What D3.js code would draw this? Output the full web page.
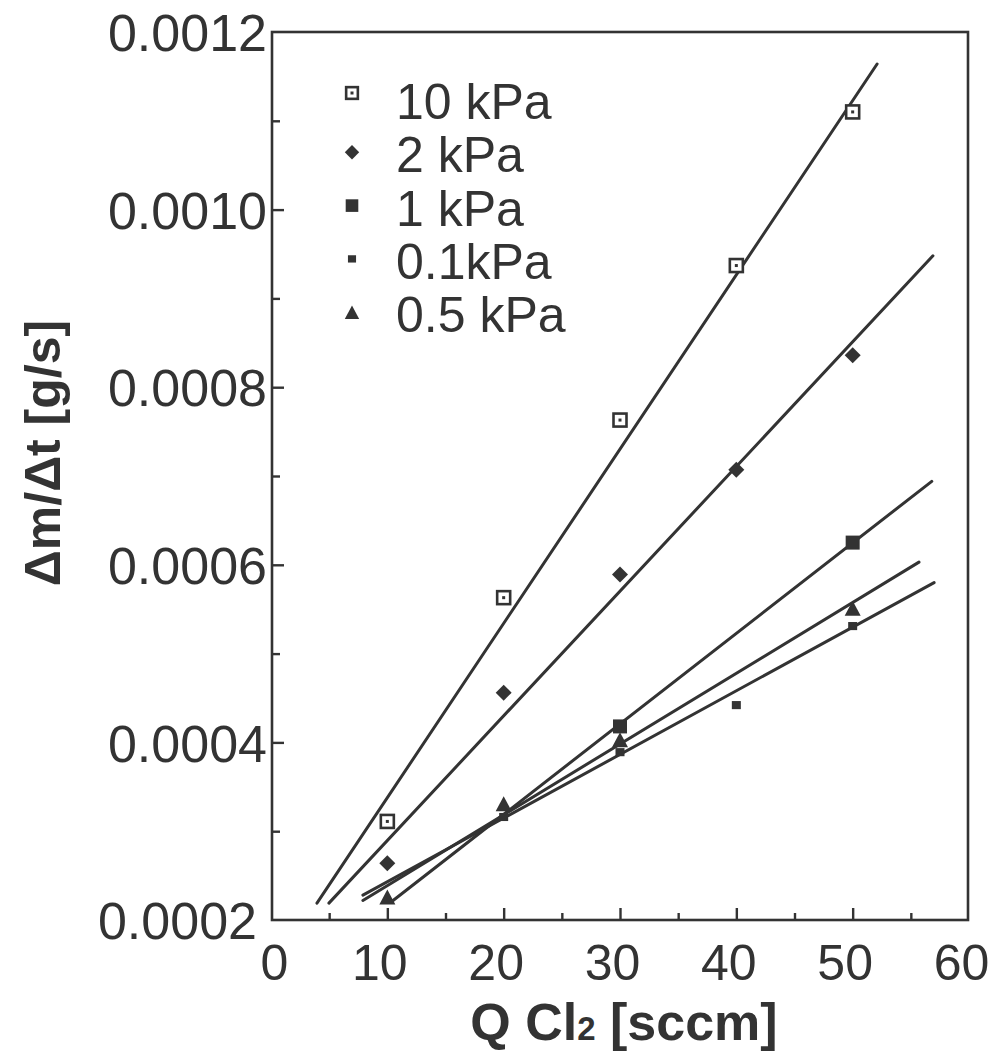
<!DOCTYPE html>
<html>
<head>
<meta charset="utf-8">
<script src="https://cdn.jsdelivr.net/npm/d3@7"></script>
<style>
  html, body { margin: 0; padding: 0; background: #fff; }
  svg { display: block; }
  text { font-family: "Liberation Sans", Arial, Helvetica, sans-serif; fill: #333; }
</style>
</head>
<body>
<svg id="chart" width="993" height="1058"></svg>
<script>
// ---- data ----
const seriesNames = ["10 kPa", "2 kPa", "1 kPa", "0.1kPa", "0.5 kPa"];
const seriesKeys  = ["p10", "p2", "p1", "p01", "p05"];

const p10 = [[10, 0.000311], [20, 0.000563], [30, 0.000763], [40, 0.000937], [50, 0.001110]];
const p2  = [[10, 0.000264], [20, 0.000456], [30, 0.000589], [40, 0.000707], [50, 0.000836]];
const p1  = [[30, 0.000418], [50, 0.000625]];
const p01 = [[20, 0.000316], [30, 0.000389], [40, 0.000442], [50, 0.000531]];
const p05 = [[10, 0.000226], [20, 0.000331], [30, 0.000403], [50, 0.000551]];

// fitted lines (start and end points, data units)
const fit10 = [[3.95, 0.000219], [52.1, 0.001164]];
const fit2  = [[4.98, 0.000219], [56.9, 0.000948]];
const fit1  = [[10.3, 0.000220], [56.8, 0.000694]];
const fit05 = [[7.9, 0.000222], [55.7, 0.000603]];
const fit01 = [[7.9, 0.000228], [57.0, 0.000580]];

const xMajorTicks = [0, 10, 20, 30, 40, 50, 60];
const xMinorTicks = [5, 15, 25, 35, 45, 55];
const yMajorTicks = [0.0002, 0.0004, 0.0006, 0.0008, 0.0010, 0.0012];
const yMinorTicks = [0.0003, 0.0005, 0.0007, 0.0009, 0.0011];
const yTickLabels = ["0.0002", "0.0004", "0.0006", "0.0008", "0.0010", "0.0012"];

const xTitle = "Q Cl";
const xTitleSub = "2";
const xTitleTail = " [sccm]";
const yTitle = "\u0394m/\u0394t [g/s]";

// ---- drawing ----
const ink = "#333";
const svg = d3.select("#chart");
const L = 272, R = 968, T = 32, B = 920;

const x = d3.scaleLinear().domain([0, 60]).range([L - 1, R + 1]);
const y = d3.scaleLinear().domain([0.0002, 0.0012]).range([B, T]);

// frame
svg.append("rect")
  .attr("x", L).attr("y", T).attr("width", R - L).attr("height", B - T)
  .attr("fill", "none").attr("stroke", ink).attr("stroke-width", 2.6);

// x axis (ticks inward)
const gx = svg.append("g").attr("transform", `translate(0,${B})`)
  .call(d3.axisBottom(x).tickValues(xMajorTicks).tickSize(-12).tickPadding(24)
        .tickFormat(d3.format("d")));
gx.select(".domain").remove();
gx.selectAll(".tick line").attr("stroke", ink).attr("stroke-width", 2.4);
gx.selectAll(".tick text").attr("font-size", 50).attr("fill", ink)
  .attr("dx", d => d === 0 ? 3 : -8)
  .style("font-family", '"Liberation Sans", Arial, sans-serif');
gx.selectAll(".tick").filter(d => d === 0 || d === 60).select("line").remove();

const gxm = svg.append("g").attr("transform", `translate(0,${B})`)
  .call(d3.axisBottom(x).tickValues(xMinorTicks).tickSize(-7).tickFormat(""));
gxm.select(".domain").remove();
gxm.selectAll(".tick line").attr("stroke", ink).attr("stroke-width", 2.4);

// y axis (ticks inward)
const gy = svg.append("g").attr("transform", `translate(${L},0)`)
  .call(d3.axisLeft(y).tickValues(yMajorTicks).tickSize(-12).tickPadding(5)
        .tickFormat((d, i) => yTickLabels[i]));
gy.select(".domain").remove();
gy.selectAll(".tick line").attr("stroke", ink).attr("stroke-width", 2.4);
gy.selectAll(".tick text").attr("font-size", 52).attr("fill", ink).attr("dy", "0.36em")
  .attr("dx", d => d === 0.0002 ? -10 : 0)
  .style("font-family", '"Liberation Sans", Arial, sans-serif');
gy.selectAll(".tick").filter(d => d === 0.0002 || d === 0.0012).select("line").remove();

const gym = svg.append("g").attr("transform", `translate(${L},0)`)
  .call(d3.axisLeft(y).tickValues(yMinorTicks).tickSize(-8).tickFormat(""));
gym.select(".domain").remove();
gym.selectAll(".tick line").attr("stroke", ink).attr("stroke-width", 2.4);

// fit lines
const fits = [fit10, fit2, fit1, fit05, fit01];
const line = d3.line().x(d => x(d[0])).y(d => y(d[1]));
svg.append("g").selectAll("path").data(fits).join("path")
  .attr("d", line).attr("fill", "none").attr("stroke", ink)
  .attr("stroke-width", 3).attr("stroke-linecap", "round");

// markers
function drawMarker(g, key, cx, cy, scale) {
  const s = scale || 1;
  if (key === "p10") {
    const h = 6.5 * s;
    g.append("rect").attr("x", cx - h).attr("y", cy - h).attr("width", 2 * h).attr("height", 2 * h)
      .attr("fill", "#fff").attr("stroke", ink).attr("stroke-width", 2.6);
    g.append("rect").attr("x", cx - 1.5).attr("y", cy - 1.5).attr("width", 3).attr("height", 3).attr("fill", ink);
  } else if (key === "p2") {
    const h = 8 * s;
    g.append("path").attr("d", `M${cx},${cy - h}L${cx + h},${cy}L${cx},${cy + h}L${cx - h},${cy}Z`).attr("fill", ink);
  } else if (key === "p1") {
    const h = 7 * s;
    g.append("rect").attr("x", cx - h).attr("y", cy - h).attr("width", 2 * h).attr("height", 2 * h).attr("fill", ink);
  } else if (key === "p01") {
    const h = 4.5 * s;
    g.append("rect").attr("x", cx - h).attr("y", cy - h * 0.9).attr("width", 2 * h).attr("height", 1.8 * h).attr("fill", ink);
  } else if (key === "p05") {
    const w = 8 * s, hh = 7.5 * s;
    g.append("path").attr("d", `M${cx},${cy - hh}L${cx + w},${cy + hh}L${cx - w},${cy + hh}Z`).attr("fill", ink);
  }
}

const allPoints = { p10, p2, p1, p01, p05 };
const gm = svg.append("g");
["p10", "p2", "p1", "p05", "p01"].forEach(k => {
  allPoints[k].forEach(d => drawMarker(gm, k, x(d[0]), y(d[1])));
});

// legend
const gl = svg.append("g");
seriesNames.forEach((name, i) => {
  const base = 119 + 53.3 * i;
  drawMarker(gl, seriesKeys[i], 352, base - 20 + (i === 0 ? -6 : 0), 0.9);
  gl.append("text").attr("x", 396).attr("y", base).attr("font-size", 50).text(name);
});

// axis titles
const xt = svg.append("text").attr("x", (L + R) / 2 + 4).attr("y", 1040)
  .attr("text-anchor", "middle").attr("font-size", 52).attr("font-weight", "bold");
xt.append("tspan").text(xTitle);
xt.append("tspan").attr("font-size", 33).text(xTitleSub);
xt.append("tspan").text(xTitleTail);

svg.append("text").attr("transform", `translate(60,${453}) rotate(-90)`)
  .attr("text-anchor", "middle").attr("font-size", 50).attr("font-weight", "bold")
  .text(yTitle);
</script>
</body>
</html>
